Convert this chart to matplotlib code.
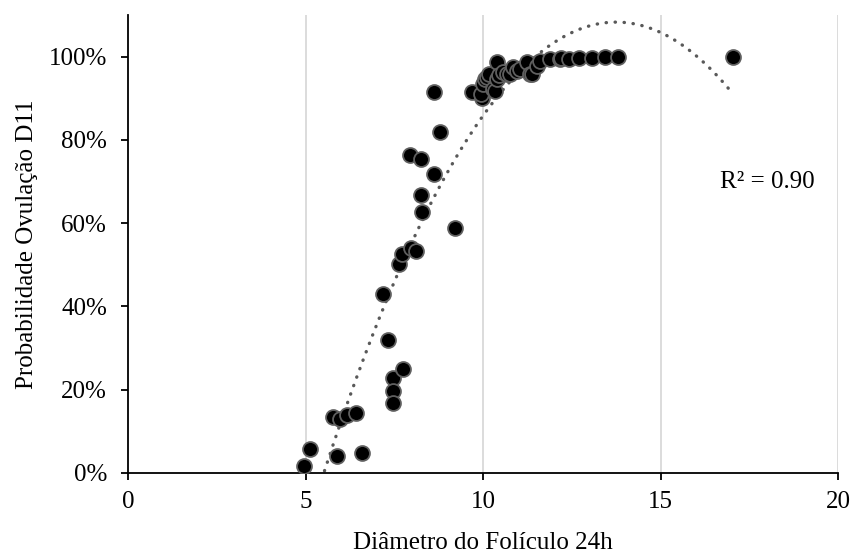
import numpy as np
import matplotlib
matplotlib.use("Agg")
import matplotlib.pyplot as plt
from matplotlib.ticker import PercentFormatter

# Follicle diameter at 24h (mm) and probability of ovulation D11 (fraction)
diametro = [4.96, 5.13, 5.78, 5.90, 5.97, 6.18, 6.42, 6.58,
            7.19, 7.33, 7.46, 7.46, 7.47, 7.74, 7.64, 7.73, 7.96, 8.11,
            7.94, 8.25, 8.25, 8.27, 8.63, 8.63, 8.79, 9.21,
            9.68, 9.96, 9.93, 10.01, 10.06, 10.12, 10.18, 10.29, 10.34, 10.38,
            10.38, 10.45, 10.57, 10.67, 10.76, 10.85, 10.95, 11.04, 11.23, 11.32,
            11.37, 11.51, 11.60, 11.89, 12.17, 12.21, 12.43, 12.71, 13.06, 13.44,
            13.81, 17.03]
probabilidade = [0.017, 0.057, 0.134, 0.041, 0.130, 0.139, 0.143, 0.047,
                 0.429, 0.319, 0.227, 0.197, 0.169, 0.249, 0.501, 0.525, 0.541, 0.532,
                 0.763, 0.753, 0.667, 0.626, 0.914, 0.717, 0.819, 0.588,
                 0.914, 0.900, 0.910, 0.934, 0.946, 0.950, 0.959, 0.922, 0.918, 0.946,
                 0.986, 0.955, 0.964, 0.959, 0.959, 0.974, 0.965, 0.970, 0.988, 0.959,
                 0.959, 0.978, 0.990, 0.994, 0.995, 0.996, 0.995, 0.996, 0.997, 0.998,
                 0.998, 1.000]

x_ticks = [0, 5, 10, 15, 20]
y_ticks = [0, 0.2, 0.4, 0.6, 0.8, 1.0]
r2_label = "R² = 0.90"

plt.rcParams['font.family'] = ['Liberation Serif', 'DejaVu Serif']

fig = plt.figure(figsize=(8.54, 5.56), dpi=100)
ax = fig.add_axes([0.1499, 0.1493, 0.8314, 0.8237])

x = np.array(diametro)
y = np.array(probabilidade)

ax.set_xlim(0, 20)
ax.set_ylim(0, 1.1)

for gx in x_ticks[1:]:
    ax.axvline(gx, color='#d9d9d9', lw=1.3, zorder=0)

# polynomial (order 2) trendline, clipped at y = 0
coef = np.polyfit(x, y, 2)
xs = np.linspace(x.min(), x.max(), 400)
ys = np.polyval(coef, xs)
m = ys >= 0
ax.plot(xs[m], ys[m], color='#595959', lw=2.4, linestyle=(0, (0.1, 2.6)),
        dash_capstyle='round', zorder=2)

ax.scatter(x, y, s=115, facecolor='black', edgecolor='#5f5f5f', linewidths=1.3, zorder=3)

ax.set_xticks(x_ticks)
ax.set_yticks(y_ticks)
ax.yaxis.set_major_formatter(PercentFormatter(1.0, decimals=0))
ax.tick_params(axis='both', labelsize=18, length=5, width=1.3, color='black', direction='out')
ax.tick_params(axis='x', pad=8)
ax.tick_params(axis='y', pad=10)

for s in ['top', 'right']:
    ax.spines[s].set_visible(False)
for s in ['left', 'bottom']:
    ax.spines[s].set_linewidth(1.3)
    ax.spines[s].set_color('black')

ax.set_xlabel('Diâmetro do Folículo 24h', fontsize=18, labelpad=14)
ax.set_ylabel('Probabilidade Ovulação D11', fontsize=18, labelpad=8)

ax.text(18.0, 0.698, r2_label, fontsize=18, ha='center', va='center')

fig.savefig('out.png', dpi=100)
